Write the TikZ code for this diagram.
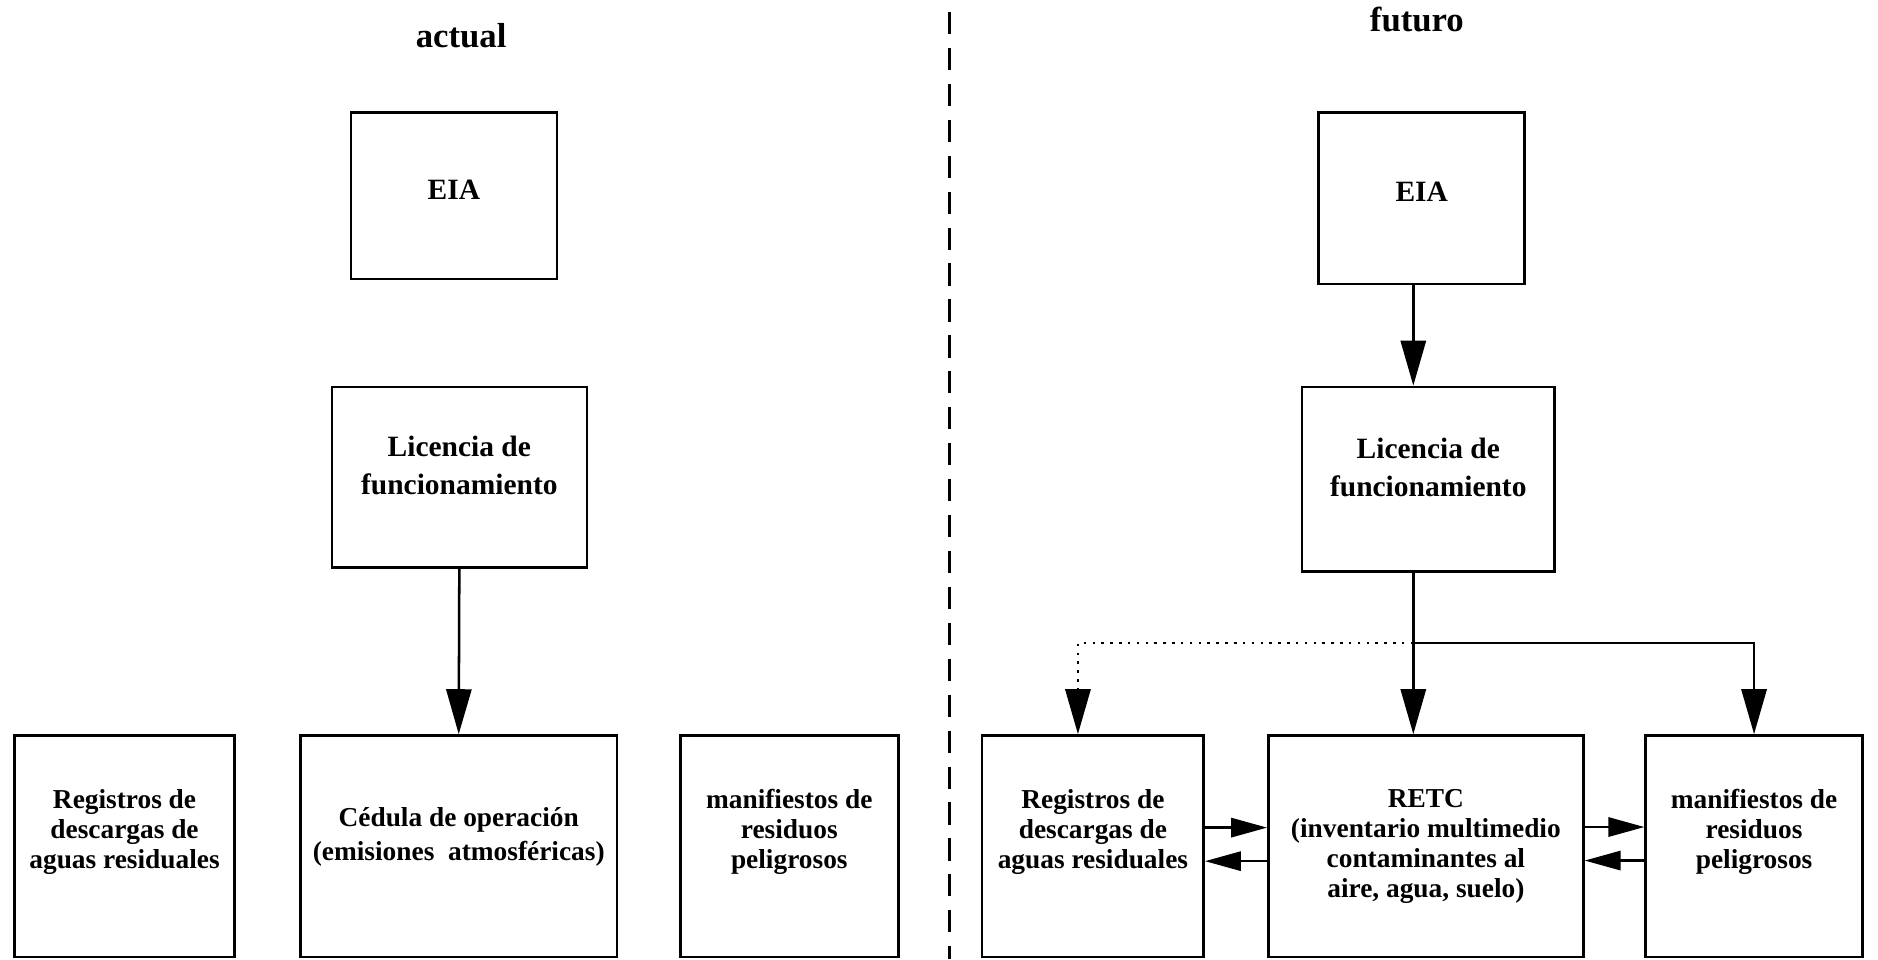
\documentclass[tikz,border=0pt]{standalone}
\usepackage{fontspec}
\setmainfont{Liberation Serif}
\usetikzlibrary{arrows.meta}

\begin{document}
\begin{tikzpicture}[>={Triangle[length=7.5mm,width=4.2mm]},
  box/.style={draw, line width=1.2pt, align=center, inner sep=2pt},
  topbox/.style={box, font=\fontsize{14}{18}\selectfont\bfseries},
  lowbox/.style={box, font=\fontsize{13}{14.2}\selectfont\bfseries, minimum height=3.7cm},
  title/.style={font=\fontsize{16.5}{20}\selectfont\bfseries},
  link/.style={line width=1.2pt},
  side/.style={link, {Triangle[length=6mm,width=3.2mm]}-}]
  \useasboundingbox (0,0) rectangle (31.36,-16.02);

  % actual
  \node[title] (titA) at (7.70,-0.60) {actual};
  \node[topbox, minimum width=3.44cm, minimum height=2.78cm] (eiaA) at (7.58,-3.27) {EIA\\[-12pt]};
  \node[topbox, minimum width=4.26cm, minimum height=3.02cm] (licA) at (7.67,-7.97) {Licencia de\\funcionamiento\\[-6.6pt]};
  \node[lowbox, minimum width=3.68cm] (regA) at (2.08,-14.13) {Registros de\\descargas de\\aguas residuales\\[2pt]};
  \node[lowbox, minimum width=5.28cm] (cedA) at (7.66,-14.13) {Cédula de operación\\[2pt](emisiones\ \ atmosféricas)\\[-3pt]};
  \node[lowbox, minimum width=3.64cm] (manA) at (13.18,-14.13) {manifiestos de\\residuos\\peligrosos\\[2pt]};
  \draw[link,->] (licA.south) -- (cedA.north);

  % dashed divider
  \coordinate (divtop) at (15.86,-0.2);
  \coordinate (divbot) at (15.86,-16.02);
  \draw[line width=1.4pt, dash pattern=on 0.37cm off 0.23cm] (divtop) -- (divbot);

  % futuro
  \node[title] (titF) at (23.66,-0.32) {futuro};
  \node[topbox, minimum width=3.44cm, minimum height=2.86cm] (eiaF) at (23.74,-3.31) {EIA\\[-12pt]};
  \node[topbox, minimum width=4.22cm, minimum height=3.08cm] (licF) at (23.85,-8.00) {Licencia de\\funcionamiento\\[-6.6pt]};
  \node[lowbox, minimum width=3.70cm] (regF) at (18.25,-14.13) {Registros de\\descargas de\\aguas residuales\\[2pt]};
  \node[lowbox, minimum width=5.26cm] (retcF) at (23.81,-14.13) {RETC\\(inventario multimedio\\contaminantes al\\aire, agua, suelo)};
  \node[lowbox, minimum width=3.62cm] (manF) at (29.29,-14.13) {manifiestos de\\residuos\\peligrosos\\[2pt]};

  \coordinate (junc) at (23.6,-10.74);
  \draw[link,->] (eiaF.south -| junc) -- (licF.north -| junc);
  \draw[link] (licF.south -| junc) -- (junc);
  \draw[link,->] (junc) -- (retcF.north -| junc);
  \draw[link,->] (junc) -| (manF.north);
  \draw[link, dash pattern=on 1.2pt off 3pt,->] (junc) -| ([xshift=-2.5mm]regF.north);

  % two-way links
  \draw[side] ([yshift=3.1mm]retcF.west) -- ([yshift=3.1mm]regF.east);
  \draw[side] ([yshift=-2.5mm]regF.east) -- ([yshift=-2.5mm]retcF.west);
  \draw[side] ([yshift=3.2mm]manF.west) -- ([yshift=3.2mm]retcF.east);
  \draw[side] ([yshift=-2.4mm]retcF.east) -- ([yshift=-2.4mm]manF.west);
\end{tikzpicture}
\end{document}
